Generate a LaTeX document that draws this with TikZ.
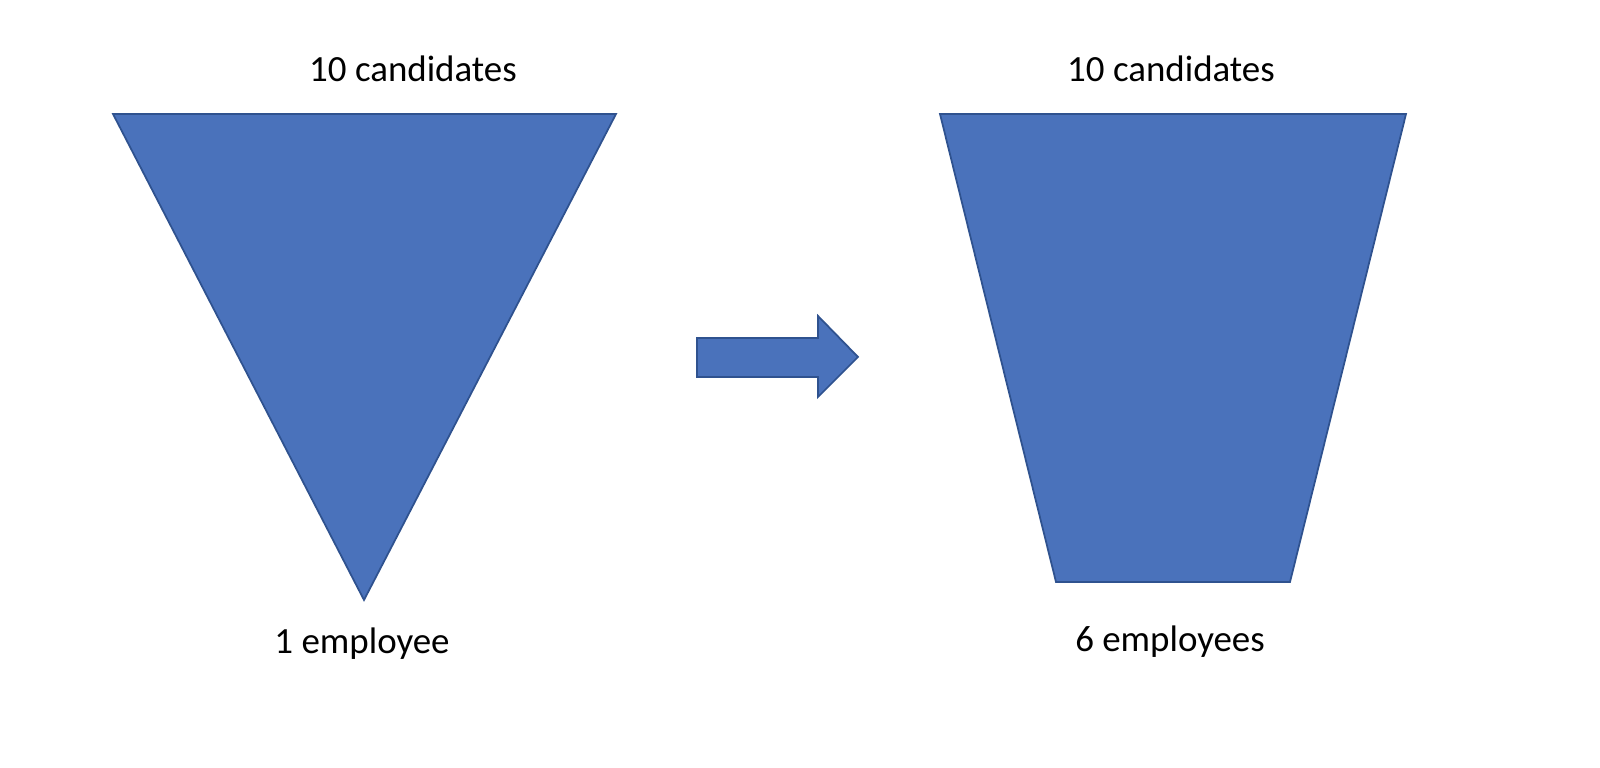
\documentclass[tikz,border=0pt]{standalone}
\usepackage{fontspec}
\setmainfont{Carlito}
\usepackage{tikz}
\definecolor{funnelblue}{HTML}{4A72BB}
\definecolor{funnelline}{HTML}{2F528F}
\tikzset{
  funnel/.style={fill=funnelblue,draw=funnelline,line width=0.5pt,line join=miter},
  lbl/.style={anchor=base,font=\fontsize{10.5}{12}\selectfont,inner sep=0pt}
}

\begin{document}
\begin{tikzpicture}[x=0.01cm,y=-0.01cm]
		\useasboundingbox (0,0) rectangle (1600,768);
		% left funnel
		\coordinate (TL) at (113,114);
		\coordinate (TR) at (616,114);
		\coordinate (TB) at (364,600);
		\draw[funnel] (TL) -- (TR) -- (TB) -- cycle;
		% right funnel
		\coordinate (QL) at (940,114);
		\coordinate (QR) at (1406,114);
		\coordinate (QBR) at (1290,582);
		\coordinate (QBL) at (1056,582);
		\draw[funnel] (QL) -- (QR) -- (QBR) -- (QBL) -- cycle;
		% arrow
		\draw[funnel] (697,338) -- (818,338) -- (818,316) -- (858,357)
		  -- (818,397) -- (818,377) -- (697,377) -- cycle;
		%
		\node[lbl] (candL) at (413,82) {10 candidates};
		\node[lbl] (empL) at (362,654) {1 employee};
		\node[lbl] (candR) at (1171,82) {10 candidates};
		\node[lbl] (empR) at (1170,652) {6 employees};
\end{tikzpicture}
\end{document}
